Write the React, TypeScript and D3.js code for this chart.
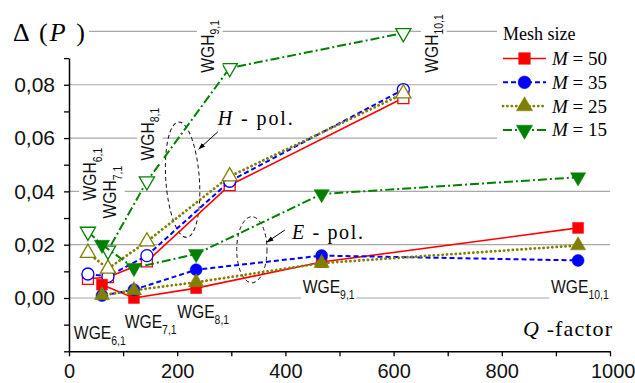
import { useRef, useEffect } from 'react';
import * as d3 from 'd3';

// modes and their Q-factors (x values)
const modes = ['6,1', '7,1', '8,1', '9,1', '10,1'];
const qH = [35, 72, 144, 297, 618];
const qE = [61, 120, 235, 467, 941];

// Δ(P) of H-polarised modes for each mesh size
const hM50 = [0.0072, 0.0078, 0.0137, 0.0423, 0.0750];
const hM35 = [0.0090, 0.0081, 0.0159, 0.0438, 0.0782];
const hM25 = [0.0169, 0.0110, 0.0212, 0.0456, 0.0767];
const hM15 = [0.0249, 0.0178, 0.0438, 0.0863, 0.0994];

// Δ(P) of E-polarised modes
const eM50 = [0.0050, 0.0000, 0.0037, 0.0135, 0.0263];
const eM35 = [0.0009, 0.0031, 0.0106, 0.0159, 0.0141];
const eM25 = [0.0010, 0.0029, 0.0059, 0.0131, 0.0197];
const eM15 = [0.0200, 0.0113, 0.0165, 0.0390, 0.0453];

const meshSizes = [50, 35, 25, 15];

const xTicks = [0, 100, 200, 300, 400, 500, 600, 700, 800, 900, 1000];
const yTicks = [-0.02, -0.01, 0, 0.01, 0.02, 0.03, 0.04, 0.05, 0.06, 0.07, 0.08, 0.09];
const gridLevels = [0, 0.02, 0.04, 0.06, 0.08, 0.1];

// where the mode names sit (data units)
const wghQ = [50, 87, 157, 268, 682];
const wghD = [0.0366, 0.0298, 0.0516, 0.0845, 0.0845];
const wgeQ = [9, 103, 200, 432, 891];
const wgeD = [-0.0155, -0.0114, -0.0076, 0.0017, 0.0017];

const SANS = 'Liberation Sans, Arial, sans-serif';
const SERIF = 'Liberation Serif, Times New Roman, serif';

export default function App() {
  const svgRef = useRef(null);

  useEffect(() => {
    const width = 635;
    const height = 383;

    const x = d3.scaleLinear().domain([0, 1000]).range([69, 610]);
    const y = d3.scaleLinear().domain([-0.02, 0.09]).range([351.3, 58.1]);

    const svg = d3.select(svgRef.current)
      .attr('width', width)
      .attr('height', height);
    svg.selectAll('*').remove();

    const defs = svg.append('defs');
    defs.append('marker')
      .attr('id', 'arrow')
      .attr('viewBox', '0 0 10 10')
      .attr('refX', 9).attr('refY', 5)
      .attr('markerWidth', 7).attr('markerHeight', 7)
      .attr('orient', 'auto')
      .append('path')
      .attr('d', 'M0,1.5 L10,5 L0,8.5 Z')
      .attr('fill', 'black');

    // gridlines
    svg.append('g').selectAll('line')
      .data(gridLevels)
      .enter().append('line')
      .attr('x1', x(0)).attr('x2', x(1000))
      .attr('y1', d => y(d)).attr('y2', d => y(d))
      .attr('stroke', '#a8a8a8')
      .attr('stroke-width', 1.2);

    // dashed ellipses + arrows marking H- and E-polarisation groups
    const ell = [
      { q: 210, d: 0.0444, rq: 31, rd: 0.0217, angle: -4, tq: 275, td: 0.0623, hq: 240, hd: 0.0559 },
      { q: 338, d: 0.0181, rq: 28, rd: 0.0124, angle: 0, tq: 399, td: 0.0255, hq: 366, hd: 0.0210 },
    ];
    ell.forEach(e => {
      svg.append('ellipse')
        .attr('transform', `translate(${x(e.q)},${y(e.d)}) rotate(${e.angle})`)
        .attr('rx', x(e.q + e.rq) - x(e.q))
        .attr('ry', y(e.d - e.rd) - y(e.d))
        .attr('fill', 'none')
        .attr('stroke', '#111')
        .attr('stroke-width', 1)
        .attr('stroke-dasharray', '4,3');
      svg.append('line')
        .attr('x1', x(e.tq)).attr('y1', y(e.td))
        .attr('x2', x(e.hq)).attr('y2', y(e.hd))
        .attr('stroke', 'black')
        .attr('stroke-width', 1)
        .attr('marker-end', 'url(#arrow)');
    });

    const styles = [
      { color: '#ff0000', symbol: d3.symbolSquare, size: 120, flip: false, dash: null, width: 1.6 },
      { color: '#0000ff', symbol: d3.symbolCircle, size: 113, flip: false, dash: '5,3', width: 2 },
      { color: '#808000', symbol: d3.symbolTriangle, size: 100, flip: false, dash: '0.1,4.3', width: 2.8 },
      { color: '#008000', symbol: d3.symbolTriangle, size: 100, flip: true, dash: '9,3,2,3', width: 2 },
    ];
    const hSets = [hM50, hM35, hM25, hM15];
    const eSets = [eM50, eM35, eM25, eM15];

    const line = d3.line().x(d => x(d[0])).y(d => y(d[1]));

    const drawSeries = (qs, vals, st, open) => {
      const pts = qs.map((q, i) => [q, vals[i]]);
      svg.append('path')
        .attr('d', line(pts))
        .attr('fill', 'none')
        .attr('stroke', st.color)
        .attr('stroke-width', st.width)
        .attr('stroke-linecap', st.dash && st.dash.startsWith('0.1') ? 'round' : 'butt')
        .attr('stroke-dasharray', st.dash);
      svg.append('g').selectAll('path')
        .data(pts)
        .enter().append('path')
        .attr('d', d3.symbol().type(st.symbol).size(st.size)())
        .attr('transform', d => `translate(${x(d[0])},${y(d[1])})${st.flip ? ' rotate(180)' : ''}`)
        .attr('fill', open ? 'white' : st.color)
        .attr('stroke', st.color)
        .attr('stroke-width', open ? 1.3 : 0.5);
    };

    styles.forEach((st, i) => drawSeries(qH, hSets[i], st, true));
    styles.forEach((st, i) => drawSeries(qE, eSets[i], st, false));

    // mode labels with white background (narrowed like the original)
    const addLabel = (transform, main, sub) => {
      const g = svg.append('g').attr('transform', `${transform} scale(0.87,1)`);
      const t = g.append('text')
        .attr('font-family', SANS)
        .attr('font-size', 18)
        .attr('fill', '#111')
        .text(main);
      t.append('tspan').attr('font-size', 12).attr('dy', 5.5).text(sub);
      const b = t.node().getBBox();
      g.insert('rect', 'text')
        .attr('x', b.x - 2).attr('y', b.y - 1)
        .attr('width', b.width + 4).attr('height', b.height + 2)
        .attr('fill', 'white');
    };
    modes.forEach((m, i) => {
      addLabel(`translate(${x(wghQ[i])},${y(wghD[i])}) rotate(-90)`, 'WGH', m);
      addLabel(`translate(${x(wgeQ[i])},${y(wgeD[i])})`, 'WGE', m);
    });

    // polarisation labels
    const polLabel = (q, d, letter, len) => {
      const t = svg.append('text')
        .attr('x', x(q)).attr('y', y(d))
        .attr('font-family', SERIF)
        .attr('font-size', 20)
        .attr('textLength', len)
        .attr('lengthAdjust', 'spacing');
      t.append('tspan').attr('font-style', 'italic').text(letter);
      t.append('tspan').text(' - pol.');
    };
    polLabel(275, 0.0649, 'H', 75);
    polLabel(412, 0.0221, 'E', 71);

    // axis titles
    const yt = svg.append('g').attr('transform', 'translate(13,41)');
    yt.append('rect').attr('x', -2).attr('y', -24).attr('width', 78).attr('height', 32).attr('fill', 'white');
    const ytt = yt.append('text')
      .attr('font-family', SERIF)
      .attr('font-size', 26)
      .attr('textLength', 72)
      .attr('lengthAdjust', 'spacing');
    ytt.append('tspan').text('Δ (');
    ytt.append('tspan').attr('font-style', 'italic').text('P');
    ytt.append('tspan').text(' )');

    const xt = svg.append('text')
      .attr('x', 523).attr('y', 336)
      .attr('font-family', SERIF)
      .attr('font-size', 22)
      .attr('textLength', 89)
      .attr('lengthAdjust', 'spacing');
    xt.append('tspan').attr('font-style', 'italic').text('Q');
    xt.append('tspan').text(' -factor');

    // legend
    const lg = svg.append('g');
    lg.append('rect').attr('x', 497).attr('y', 19).attr('width', 118).attr('height', 124).attr('fill', 'white');
    lg.append('text')
      .attr('x', 503).attr('y', 40)
      .attr('font-family', SERIF)
      .attr('font-size', 18)
      .text('Mesh size');
    meshSizes.forEach((m, i) => {
      const st = styles[i];
      const ry = 58.5 + i * 23.8;
      lg.append('line')
        .attr('x1', 503).attr('x2', 546)
        .attr('y1', ry).attr('y2', ry)
        .attr('stroke', st.color)
        .attr('stroke-width', st.width)
        .attr('stroke-linecap', st.dash && st.dash.startsWith('0.1') ? 'round' : 'butt')
        .attr('stroke-dasharray', st.dash);
      lg.append('path')
        .attr('d', d3.symbol().type(st.symbol).size(st.size + 15)())
        .attr('transform', `translate(524.5,${ry})${st.flip ? ' rotate(180)' : ''}`)
        .attr('fill', st.color)
        .attr('stroke', st.color)
        .attr('stroke-width', 0.5);
      const t = lg.append('text')
        .attr('x', 552).attr('y', ry + 6.5)
        .attr('font-family', SERIF)
        .attr('font-size', 19);
      t.append('tspan').attr('font-style', 'italic').text('M');
      t.append('tspan').text(` = ${m}`);
    });

    // axes
    const fmt = d => d3.format('.2f')(d).replace('.', ',');
    const yAxis = svg.append('g')
      .attr('transform', `translate(${x(0)},0)`)
      .call(d3.axisLeft(y)
        .tickValues(yTicks)
        .tickSize(5)
        .tickSizeOuter(0)
        .tickPadding(9)
        .tickFormat(d => (d >= 0 && Math.round(d * 100) % 2 === 0 ? fmt(d) : '')));
    const xAxis = svg.append('g')
      .attr('transform', `translate(0,${y(-0.02)})`)
      .call(d3.axisBottom(x)
        .tickValues(xTicks)
        .tickSize(5)
        .tickSizeOuter(0)
        .tickPadding(8)
        .tickFormat(d => (d % 200 === 0 ? String(d) : '')));
    [yAxis, xAxis].forEach(a => {
      a.attr('font-family', SANS).attr('font-size', 21);
      a.select('.domain').attr('stroke', 'black').attr('stroke-width', 1.5);
      a.selectAll('.tick line').attr('stroke', 'black').attr('stroke-width', 1.3);
      a.selectAll('.tick text').attr('fill', '#111');
    });
    xAxis.attr('font-size', 20);
    xAxis.selectAll('.tick text').filter(d => d === 1000).attr('text-anchor', 'end').attr('x', 25);
  }, []);

  return (
    <svg ref={svgRef} style={{ position: 'absolute', left: 0, top: 0, background: 'white' }} />
  );
}
